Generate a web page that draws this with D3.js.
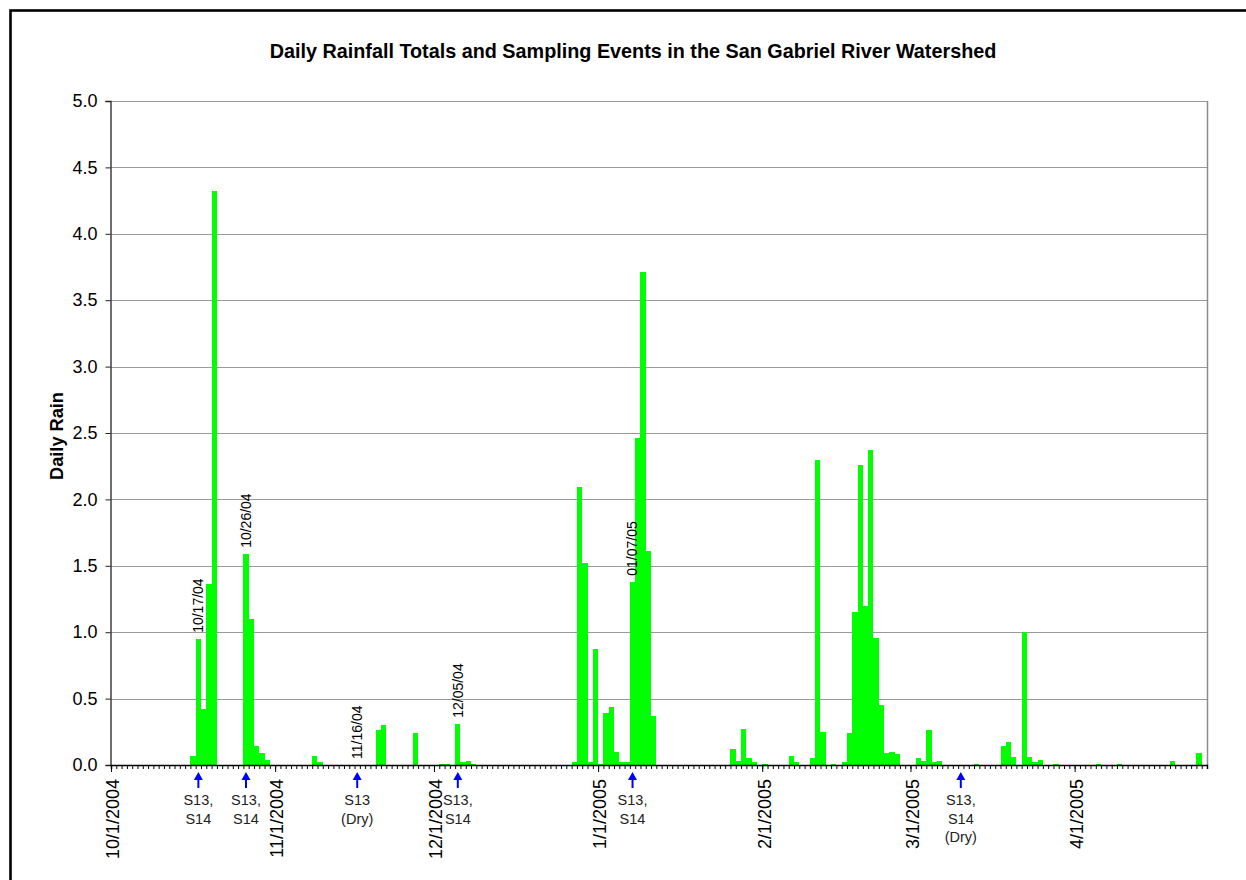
<!DOCTYPE html>
<html lang="en">
  <head>
    <meta charset="UTF-8" />
    <title>Daily Rainfall Totals and Sampling Events</title>
    <script src="https://d3js.org/d3.v7.min.js"></script>
    <style>
      body {
        margin: 0;
        background: #fff;
      }
      svg {
        display: block;
        font-family: Arial, "Liberation Sans", sans-serif;
      }
    </style>
  </head>
  <body>
    <svg width="1246" height="880"></svg>
    <script>
      // daily rain, only the days that had some (rest are 0)
      const rainDates = [
        "2004-10-16", "2004-10-17", "2004-10-18", "2004-10-19", "2004-10-20",
        "2004-10-26", "2004-10-27", "2004-10-28", "2004-10-29", "2004-10-30",
        "2004-11-08", "2004-11-09", "2004-11-20", "2004-11-21", "2004-11-27",
        "2004-12-02", "2004-12-03", "2004-12-05", "2004-12-06", "2004-12-07",
        "2004-12-08", "2004-12-27", "2004-12-28", "2004-12-29", "2004-12-30",
        "2004-12-31", "2005-01-01", "2005-01-02", "2005-01-03", "2005-01-04",
        "2005-01-05", "2005-01-06", "2005-01-07", "2005-01-08", "2005-01-09",
        "2005-01-10", "2005-01-11", "2005-01-26", "2005-01-27", "2005-01-28",
        "2005-01-29", "2005-01-30", "2005-02-01", "2005-02-06", "2005-02-07",
        "2005-02-10", "2005-02-11", "2005-02-12", "2005-02-14", "2005-02-16",
        "2005-02-17", "2005-02-18", "2005-02-19", "2005-02-20", "2005-02-21",
        "2005-02-22", "2005-02-23", "2005-02-24", "2005-02-25", "2005-02-26",
        "2005-03-02", "2005-03-03", "2005-03-04", "2005-03-05", "2005-03-06",
        "2005-03-13", "2005-03-18", "2005-03-19", "2005-03-20", "2005-03-22",
        "2005-03-23", "2005-03-24", "2005-03-25", "2005-03-28", "2005-04-05",
        "2005-04-09", "2005-04-19", "2005-04-24"
      ];
      const rainValues = [
        0.07, 0.95, 0.42, 1.36, 4.32,
        1.59, 1.10, 0.14, 0.09, 0.04,
        0.07, 0.02, 0.26, 0.30, 0.24,
        0.01, 0.01, 0.31, 0.02, 0.03,
        0.01, 0.02, 2.09, 1.52, 0.02,
        0.87, 0.01, 0.39, 0.44, 0.10,
        0.02, 0.02, 1.38, 2.46, 3.71,
        1.61, 0.37, 0.12, 0.03, 0.27,
        0.05, 0.02, 0.01, 0.07, 0.02,
        0.05, 2.30, 0.25, 0.01, 0.02,
        0.24, 1.15, 2.26, 1.20, 2.37,
        0.96, 0.45, 0.09, 0.10, 0.08,
        0.05, 0.03, 0.26, 0.02, 0.03,
        0.01, 0.14, 0.17, 0.06, 1.00,
        0.06, 0.02, 0.04, 0.01, 0.01,
        0.01, 0.03, 0.09
      ];

      // sampling events
      const sampleDates = [
        "2004-10-17", "2004-10-26", "2004-11-16",
        "2004-12-05", "2005-01-07", "2005-03-10"
      ];
      const sampleDateLabels = [
        "10/17/04", "10/26/04", "11/16/04", "12/05/04", "01/07/05", ""
      ];
      const sampleSiteLabels = [
        ["S13,", "S14"],
        ["S13,", "S14"],
        ["S13", "(Dry)"],
        ["S13,", "S14"],
        ["S13,", "S14"],
        ["S13,", "S14", "(Dry)"]
      ];

      const yTicks = [0, 0.5, 1, 1.5, 2, 2.5, 3, 3.5, 4, 4.5, 5];
      const axisStart = "2004-10-01";
      const axisEnd = "2005-04-26";

      const titleText =
        "Daily Rainfall Totals and Sampling Events in the San Gabriel River Watershed";
      const yTitle = "Daily Rain";

      const parse = d3.timeParse("%Y-%m-%d");
      const fmtMonth = d3.timeFormat("%-m/%-d/%Y");

      const svg = d3.select("svg");
      const PLOT = { LEFT: 111, RIGHT: 1207, TOP: 101, BOTTOM: 765 };

      // outer frame (runs off the right and bottom edge)
      svg
        .append("rect")
        .attr("x", 10.5)
        .attr("y", 10.5)
        .attr("width", 1300)
        .attr("height", 900)
        .attr("fill", "none")
        .attr("stroke", "#000")
        .attr("stroke-width", 2.6);

      const X = d3
        .scaleTime()
        .domain([parse(axisStart), parse(axisEnd)])
        .range([PLOT.LEFT, PLOT.RIGHT]);
      const Y = d3
        .scaleLinear()
        .domain([0, 5])
        .range([PLOT.BOTTOM, PLOT.TOP]);

      // gridlines
      svg
        .append("g")
        .selectAll("line")
        .data(yTicks.filter((d) => d > 0))
        .join("line")
        .attr("x1", PLOT.LEFT)
        .attr("x2", PLOT.RIGHT)
        .attr("y1", (d) => Math.round(Y(d)) + 0.5)
        .attr("y2", (d) => Math.round(Y(d)) + 0.5)
        .attr("stroke", "#9a9a9a")
        .attr("stroke-width", 1);

      // right border of plot area
      svg
        .append("line")
        .attr("x1", PLOT.RIGHT + 0.5)
        .attr("x2", PLOT.RIGHT + 0.5)
        .attr("y1", PLOT.TOP)
        .attr("y2", PLOT.BOTTOM)
        .attr("stroke", "#8c8c8c")
        .attr("stroke-width", 1.5);

      // bars
      const rain = rainDates.map((d, i) => ({ date: parse(d), value: rainValues[i] }));
      svg
        .append("g")
        .selectAll("rect")
        .data(rain)
        .join("rect")
        .attr("x", (d) => X(d.date))
        .attr("width", (d) => X(d3.timeDay.offset(d.date, 1)) - X(d.date))
        .attr("y", (d) => Y(d.value))
        .attr("height", (d) => Y(0) - Y(d.value))
        .attr("fill", "#00ff00")
        .attr("shape-rendering", "crispEdges");

      // y axis
      const yAxis = svg
        .append("g")
        .attr("transform", `translate(${PLOT.LEFT - 0.5},0)`)
        .call(
          d3.axisLeft(Y).tickValues(yTicks).tickSize(5).tickPadding(8)
            .tickFormat(d3.format(".1f"))
        );
      yAxis.select(".domain").attr("stroke", "#222").attr("stroke-width", 1.3);
      yAxis.selectAll(".tick line").attr("stroke", "#222");
      yAxis
        .selectAll("text")
        .attr("font-size", 18)
        .attr("font-family", "Arial, 'Liberation Sans', sans-serif")
        .attr("fill", "#000");

      // x axis: daily minor ticks + monthly major ticks with labels
      const xMinor = svg
        .append("g")
        .attr("transform", `translate(0,${PLOT.BOTTOM})`)
        .call(d3.axisBottom(X).ticks(d3.timeDay.every(1)).tickSize(4).tickFormat(""));
      xMinor.select(".domain").attr("stroke", "#000").attr("stroke-width", 1.5);
      xMinor.selectAll(".tick line").attr("stroke", "#000");

      const xMajor = svg
        .append("g")
        .attr("transform", `translate(0,${PLOT.BOTTOM})`)
        .call(d3.axisBottom(X).ticks(d3.timeMonth.every(1)).tickSize(7).tickFormat(fmtMonth));
      xMajor.select(".domain").remove();
      xMajor.selectAll(".tick line").attr("stroke", "#000");
      xMajor
        .selectAll("text")
        .attr("font-size", 18)
        .attr("font-family", "Arial, 'Liberation Sans', sans-serif")
        .attr("fill", "#000")
        .attr("text-anchor", "end")
        .attr("transform", "translate(1.5,14) rotate(-90)")
        .attr("x", 0)
        .attr("y", 0)
        .attr("dy", "0.35em");

      // sampling events
      const events = sampleDates.map((d, i) => {
        const date = parse(d);
        const hit = rain.find((r) => +r.date === +date);
        return {
          date: date,
          cx: X(date) + (X(d3.timeDay.offset(date, 1)) - X(date)) / 2,
          value: hit ? hit.value : 0,
          dateLabel: sampleDateLabels[i],
          sites: sampleSiteLabels[i],
        };
      });

      const ev = svg.append("g").selectAll("g").data(events).join("g");

      // date above bar
      ev.append("text")
        .attr("transform", (d) => `translate(${d.cx},${Y(d.value) - 6}) rotate(-90)`)
        .attr("dy", "0.35em")
        .attr("font-size", 14)
        .attr("fill", "#000")
        .text((d) => d.dateLabel);

      // blue arrow under axis
      ev.append("path")
        .attr("d", (d) => `M${d.cx},772 L${d.cx - 4.5},780 L${d.cx + 4.5},780 Z`)
        .attr("fill", "#0000ff");
      ev.append("line")
        .attr("x1", (d) => d.cx)
        .attr("x2", (d) => d.cx)
        .attr("y1", 778)
        .attr("y2", 788)
        .attr("stroke", "#0000ff")
        .attr("stroke-width", 2);

      ev.selectAll(".site")
        .data((d) => d.sites.map((s) => ({ s: s, cx: d.cx })))
        .join("text")
        .attr("class", "site")
        .attr("x", (d) => d.cx)
        .attr("y", (d, i) => 805 + i * 18.5)
        .attr("text-anchor", "middle")
        .attr("font-size", 14.5)
        .attr("fill", "#222")
        .text((d) => d.s);

      // titles
      svg
        .append("text")
        .attr("x", 633)
        .attr("y", 58)
        .attr("text-anchor", "middle")
        .attr("font-size", 19.8)
        .attr("font-weight", "bold")
        .text(titleText);

      svg
        .append("text")
        .attr("transform", "translate(63,436) rotate(-90)")
        .attr("text-anchor", "middle")
        .attr("font-size", 18.2)
        .attr("font-weight", "bold")
        .text(yTitle);
    </script>
  </body>
</html>
